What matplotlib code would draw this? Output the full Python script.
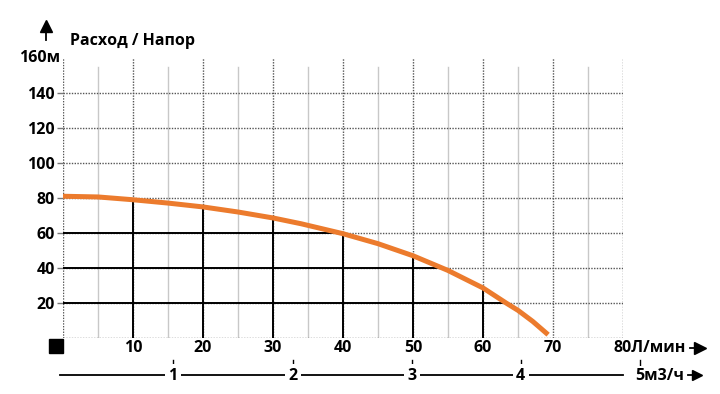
import numpy as np
import matplotlib
matplotlib.use("Agg")
import matplotlib.pyplot as plt

plt.rcParams['font.family'] = ['Open Sans', 'DejaVu Sans']
plt.rcParams['font.weight'] = 'bold'

# pump curve: flow (L/min) -> head (m)
flow = [0, 5, 10, 15, 20, 25, 30, 34, 40, 45, 50, 55, 60, 63.3, 65, 67.1, 69.3]
head = [81, 80.6, 79, 77.1, 74.9, 72, 68.6, 65.3, 59.6, 53.9, 47, 38.6, 28.6, 20, 15.8, 9.5, 1.9]

y_ticks = [20, 40, 60, 80, 100, 120, 140]
x_ticks = [10, 20, 30, 40, 50, 60, 70]
# second scale (m3/h), positions as drawn on the L/min axis
m3h_labels = ['1', '2', '3', '4']
m3h_pos = [15.7, 32.9, 49.8, 65.4]
m3h_last_pos = 82.4

orange = '#EC7B2D'
fsize = 11.5

fig = plt.figure(figsize=(7.2, 3.94), dpi=100)
ax = fig.add_axes([63 / 720, 56 / 394, 560 / 720, 280 / 394])
ax.set_xlim(0, 80)
ax.set_ylim(0, 160)
for s in ax.spines.values():
    s.set_visible(False)

# light minor verticals
for x in range(5, 80, 10):
    ax.plot([x, x], [0, 155], color='#c8c8c8', lw=1, zorder=1)
# dotted major grid
for x in range(0, 81, 10):
    ax.plot([x, x], [0, 161], color='#555555', lw=1, ls=(0, (1, 1)), zorder=1)
for y in range(0, 160, 20):
    ax.plot([0, 80], [y, y], color='#555555', lw=1, ls=(0, (1, 1)), zorder=1)

# solid lines under the curve
fl = np.array(flow)
hd = np.array(head)
for x in x_ticks[:-1]:
    ax.plot([x, x], [0, np.interp(x, fl, hd)], color='black', lw=1.4, zorder=2)
for y in [20, 40, 60]:
    xe = np.interp(y, hd[::-1], fl[::-1])
    ax.plot([0, xe], [y, y], color='black', lw=1.4, zorder=2)

ax.plot(flow, head, color=orange, lw=3.6, solid_capstyle='butt',
        solid_joinstyle='round', zorder=3)

# y axis labels
ax.set_xticks([])
ax.set_yticks(y_ticks)
ax.set_yticklabels([str(v) for v in y_ticks], fontsize=fsize, fontweight='bold')
ax.tick_params(axis='y', length=4, width=1, color='#777777', pad=2)
ax.text(-0.4, 160, '160м', ha='right', va='center', fontsize=fsize, fontweight='bold')
ax.text(1, 169.5, 'Расход / Напор', ha='left', va='center', fontsize=fsize, fontweight='bold')

# y arrow
ax.plot([-2.4, -2.4], [170.5, 177], color='black', lw=1.3, clip_on=False)
ax.plot([-2.4], [178.5], marker='^', ms=8, color='black', clip_on=False)

# x labels
for x in x_ticks:
    ax.text(x, -5.5, str(x), ha='center', va='center', fontsize=fsize, fontweight='bold')
ax.text(78.6, -5.5, '80Л/мин', ha='left', va='center', fontsize=fsize, fontweight='bold')
ax.plot([89.6, 90.8], [-5.5, -5.5], color='black', lw=1.3, clip_on=False)
ax.plot([91.0], [-5.5], marker='>', ms=8, color='black', clip_on=False)

# origin square
ax.plot([-0.93], [-4.3], marker='s', ms=9.5, color='black', clip_on=False)

# second scale m3/h
yl = -21.1
ax.plot([-0.4, 80], [yl, yl], color='black', lw=1.3, clip_on=False, zorder=1)
for xm in m3h_pos + [m3h_last_pos]:
    ax.plot([xm, xm], [-12.8, -15.3], color='black', lw=1, clip_on=False)
for lab, xm in zip(m3h_labels, m3h_pos):
    ax.text(xm, yl - 0.5, lab, ha='center', va='center', fontsize=fsize, fontweight='bold',
            bbox=dict(facecolor='white', edgecolor='none', pad=2.5), zorder=2)
ax.text(m3h_last_pos - 0.7, yl - 0.5, '5м3/ч', ha='left', va='center', fontsize=fsize,
        fontweight='bold', bbox=dict(facecolor='white', edgecolor='none', pad=1.5), zorder=2)
ax.plot([89.3, 90.2], [yl, yl], color='black', lw=1.3, clip_on=False)
ax.plot([90.6], [yl], marker='>', ms=7, color='black', clip_on=False)

fig.savefig('out.png', dpi=100)
